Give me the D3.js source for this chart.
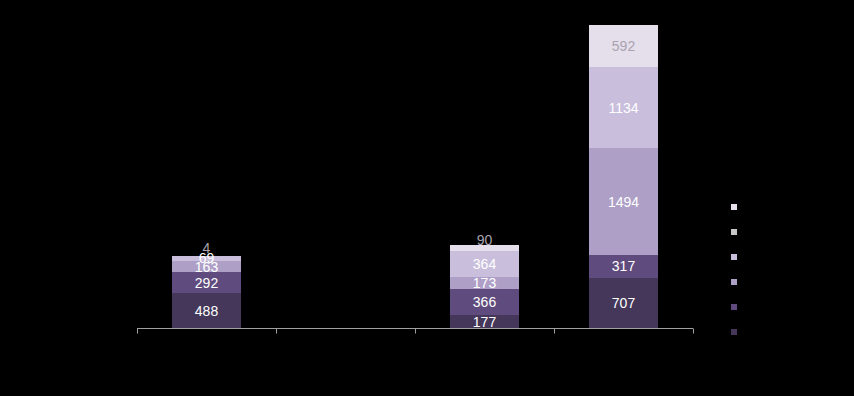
<!DOCTYPE html>
<html>
<head>
<meta charset="utf-8">
<script src="https://cdn.jsdelivr.net/npm/d3@7"></script>
<style>
  html, body { margin: 0; padding: 0; background: #000; }
  svg { display: block; font-family: "Liberation Sans", Arial, sans-serif; }
</style>
</head>
<body>
<svg id="chart" width="854" height="396"></svg>
<script>
// Categories along the x axis (labels are drawn in black, as in the source)
const categories = ['Cat A', 'Cat B', 'Cat C', 'Cat D'];

// Series values, bottom of the stack first
const seriesNames = ['Series 1', 'Series 2', 'Series 3', 'Series 4', 'Series 5', 'Series 6'];
const series1 = [488, 0, 177, 707];
const series2 = [292, 0, 366, 317];
const series3 = [163, 0, 173, 1494];
const series4 = [69, 0, 364, 1134];
const series5 = [0, 0, 0, 0];
const series6 = [4, 0, 90, 592];

const colors = ['#44375a', '#5f4b7e', '#ae9fc7', '#c9bedc', '#c8c8c8', '#e5dfec'];
const labelColors = ['#fff', '#fff', '#fff', '#fff', '#fff', '#a9a3b0'];

const allSeries = [series1, series2, series3, series4, series5, series6];
const table = categories.map((c, i) => {
    const row = { cat: c };
    seriesNames.forEach((s, j) => { row[s] = allSeries[j][i]; });
    return row;
});

const svg = d3.select('#chart');
const x = d3.scaleBand().domain(categories).range([137, 693]).paddingInner(0).paddingOuter(0);
const y = d3.scaleLinear().domain([0, 4500]).range([328, 7]);
const barW = x.bandwidth() * 0.5;

const stacked = d3.stack().keys(seriesNames)(table);

const layers = svg.append('g').selectAll('g')
    .data(stacked)
    .join('g')
    .attr('fill', (d, i) => colors[i]);

layers.selectAll('rect')
    .data(d => d)
    .join('rect')
    .attr('shape-rendering', 'crispEdges')
    .attr('x', d => x(d.data.cat) + (x.bandwidth() - barW) / 2)
    .attr('y', d => y(d[1]))
    .attr('width', barW)
    .attr('height', d => y(d[0]) - y(d[1]));

// Value labels inside each segment; thin top segments get nudged up
const last = stacked.length - 1;
stacked.forEach((layer, i) => {
    svg.append('g').selectAll('text')
        .data(layer.filter(d => d[1] - d[0] > 0))
        .join('text')
        .attr('x', d => x(d.data.cat) + x.bandwidth() / 2)
        .attr('y', d => {
            const mid = (y(d[0]) + y(d[1])) / 2;
            const h = y(d[0]) - y(d[1]);
            return (i === last && h < 10) ? mid - 8 : mid;
        })
        .attr('dy', '0.36em')
        .attr('text-anchor', 'middle')
        .attr('font-size', 14)
        .attr('fill', labelColors[i])
        .text(d => d[1] - d[0]);
});

// X axis: ticks between categories
const axis = svg.append('g').attr('transform', 'translate(0,328.5)');
axis.append('line')
    .attr('x1', 137).attr('x2', 693)
    .attr('stroke', '#a0a0a0').attr('stroke-width', 1);
const edges = categories.map(c => x(c)).concat([x.range()[1]]);
axis.selectAll('line.tick')
    .data(edges)
    .join('line')
    .attr('class', 'tick')
    .attr('x1', d => d + 0.5).attr('x2', d => d + 0.5)
    .attr('y1', 0).attr('y2', 5)
    .attr('stroke', '#a0a0a0');
axis.selectAll('text')
    .data(categories)
    .join('text')
    .attr('x', d => x(d) + x.bandwidth() / 2)
    .attr('y', 20)
    .attr('text-anchor', 'middle')
    .attr('font-size', 12)
    .attr('fill', '#000')
    .text(d => d);

// Legend, top entry is the top of the stack
const legend = svg.append('g');
const legendItems = seriesNames.map((s, i) => ({ name: s, color: colors[i] })).reverse();
const ly = d3.scalePoint().domain(legendItems.map(d => d.name)).range([207, 332]);
legend.selectAll('rect')
    .data(legendItems)
    .join('rect')
    .attr('x', 731)
    .attr('y', d => ly(d.name) - 3)
    .attr('width', 6)
    .attr('height', 6)
    .attr('fill', d => d.color);
legend.selectAll('text')
    .data(legendItems)
    .join('text')
    .attr('x', 742)
    .attr('y', d => ly(d.name))
    .attr('dy', '0.35em')
    .attr('font-size', 12)
    .attr('fill', '#000')
    .text(d => d.name);
</script>
</body>
</html>
